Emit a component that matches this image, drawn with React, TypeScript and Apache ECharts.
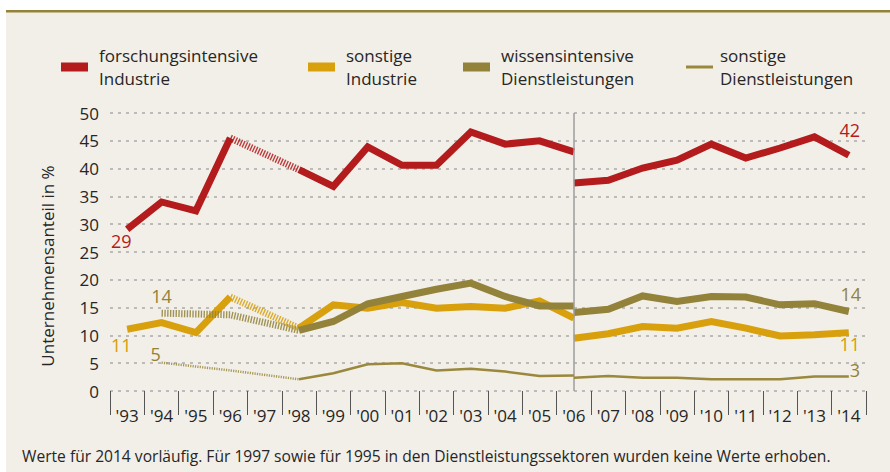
import React, { useEffect, useRef } from 'react';
import * as echarts from 'echarts';

const years = ["'93", "'94", "'95", "'96", "'97", "'98", "'99", "'00", "'01", "'02", "'03", "'04", "'05", "'06", "'07", "'08", "'09", "'10", "'11", "'12", "'13", "'14"];
const seriesNames = ['forschungsintensive Industrie', 'sonstige Industrie', 'wissensintensive Dienstleistungen', 'sonstige Dienstleistungen'];

// 1993–2006 (old survey basis)
const fiIndustrie1 = [29.1, 34.0, 32.4, 45.5, null, 39.8, 36.8, 43.9, 40.6, 40.6, 46.6, 44.4, 45.0, 43.0];
const soIndustrie1 = [11.1, 12.3, 10.5, 16.9, null, 11.3, 15.5, 14.9, 15.9, 14.9, 15.2, 14.9, 16.2, 13.1];
const wiDienst1 = [null, 14.0, null, 13.7, null, 10.9, 12.5, 15.7, 17.0, 18.3, 19.4, 17.0, 15.3, 15.3];
const soDienst1 = [null, 5.1, null, 3.7, null, 2.1, 3.2, 4.8, 5.0, 3.7, 4.0, 3.5, 2.7, 2.8];
// 2006–2014 (new survey basis)
const fiIndustrie2 = [37.4, 37.9, 40.1, 41.5, 44.4, 41.9, 43.7, 45.7, 42.4];
const soIndustrie2 = [9.5, 10.3, 11.6, 11.3, 12.5, 11.3, 9.9, 10.1, 10.5];
const wiDienst2 = [14.1, 14.7, 17.1, 16.1, 17.0, 16.9, 15.5, 15.7, 14.3];
const soDienst2 = [2.4, 2.7, 2.4, 2.4, 2.1, 2.1, 2.1, 2.6, 2.6];

const startLabels = ['29', '11', '14', '5'];
const endLabels = ['42', '11', '14', '3'];

const yAxisTitle = 'Unternehmensanteil in %';
const footnote = 'Werte für 2014 vorläufig. Für 1997 sowie für 1995 in den Dienstleistungssektoren wurden keine Werte erhoben.';

const FONT = '"Open Sans", "Noto Sans", sans-serif';
const TEXT = '#262626';
const colors = ['#b31b1d', '#d8a00c', '#938239', '#9a883c'];
const widths = [7, 7, 7, 2.5];
const labelColors = ['#b31b1d', '#d49d0c', '#938239', '#938239'];
const startLabelPos = [
  { position: 'bottom', distance: 3, offset: [-6, 0] },
  { position: 'bottom', distance: 7, offset: [-6, 0] },
  { position: 'top', distance: 8, offset: [0, 0] },
  { position: 'top', distance: 1, offset: [-6, 1] },
];
const endLabelPos = [
  { position: 'top', distance: 16, offset: [1, 0] },
  { position: 'bottom', distance: 2, offset: [1, 0] },
  { position: 'top', distance: 8, offset: [2, 0] },
  { position: 'top', distance: 1, offset: [6, 3] },
];

const period1 = [fiIndustrie1, soIndustrie1, wiDienst1, soDienst1];
const period2 = [fiIndustrie2, soIndustrie2, wiDienst2, soDienst2];
const BREAK = 13; // index of '06

function labelled(value: number, text: string, pos: any, color: string) {
  return {
    value,
    symbol: 'circle',
    symbolSize: 2,
    itemStyle: { color: 'rgba(0,0,0,0)', borderWidth: 0 },
    label: {
      show: true,
      formatter: () => text,
      position: pos.position,
      distance: pos.distance,
      offset: pos.offset,
      color,
      fontSize: 18,
      lineHeight: 16,
      fontFamily: FONT,
    },
  };
}

function buildSeries() {
  const out: any[] = [];
  for (let k = 0; k < 4; k++) {
    const p1 = period1[k];
    const p2 = period2[k];
    const name = seriesNames[k];
    const firstIdx = p1.findIndex((v) => v != null);
    const solid1 = years.map((_, i) => {
      if (i > BREAK) return '-';
      const v = p1[i];
      if (v == null) return '-';
      if (i === firstIdx) return labelled(v, startLabels[k], startLabelPos[k], labelColors[k]);
      return v;
    });
    const hatched = years.map((_, i) => {
      if (i > BREAK) return '-';
      const v = p1[i];
      if (v == null) return '-';
      const before = p1.slice(0, Math.max(0, i - 1)).some((x) => x != null);
      const after = p1.slice(i + 2, BREAK + 1).some((x) => x != null);
      const gapBefore = i > 0 && p1[i - 1] == null && before;
      const gapAfter = i < BREAK && p1[i + 1] == null && after;
      return gapBefore || gapAfter ? v : '-';
    });
    const solid2 = years.map((_, i) => {
      if (i < BREAK) return '-';
      const j = i - BREAK;
      const v = p2[j];
      if (j === p2.length - 1) return labelled(v, endLabels[k], endLabelPos[k], labelColors[k]);
      return v;
    });
    const base = {
      type: 'line',
      name,
      symbol: 'none',
      showSymbol: true,
      itemStyle: { color: colors[k] },
      emphasis: { disabled: true },
      z: 2 + k,
    };
    out.push({
      ...base,
      data: solid1,
      connectNulls: false,
      lineStyle: { color: colors[k], width: widths[k], join: 'miter', cap: 'butt' },
    });
    out.push({
      ...base,
      data: hatched,
      connectNulls: true,
      lineStyle: {
        color: colors[k],
        width: widths[k] === 7 ? 7 : 2.5,
        type: widths[k] === 7 ? [1.4, 1.4] : [1.2, 1.2],
        cap: 'butt',
        opacity: 0.85,
      },
    });
    const s2: any = {
      ...base,
      data: solid2,
      connectNulls: false,
      lineStyle: { color: colors[k], width: widths[k], join: 'miter', cap: 'butt' },
    };
    if (k === 0) {
      s2.markLine = {
        silent: true,
        symbol: ['none', 'none'],
        label: { show: false },
        lineStyle: { color: '#9e9e9e', width: 1.5, type: 'solid' },
        data: [{ xAxis: years[BREAK] }],
      };
    }
    out.push(s2);
  }
  return out;
}

const legendLeft = [56, 303, 458, 681];
const legendTextGap = [6, 6, 6, 2];

export default function App() {
  const ref = useRef<HTMLDivElement>(null);
  useEffect(() => {
    if (!ref.current) return;
    const chart = echarts.init(ref.current, undefined, { renderer: 'svg' });
    const option: any = {
      animation: false,
      backgroundColor: '#ffffff',
      textStyle: { fontFamily: FONT },
      graphic: [
        { type: 'rect', z: -10, shape: { x: 6, y: 11, width: 884, height: 461 }, style: { fill: '#f2efe8' } },
        { type: 'rect', z: -9, shape: { x: 6, y: 10, width: 884, height: 2.5 }, style: { fill: '#938239' } },
        {
          type: 'text',
          x: 47,
          y: 266,
          rotation: Math.PI / 2,
          style: { text: yAxisTitle, font: `17px ${FONT}`, fill: TEXT, textAlign: 'center', textVerticalAlign: 'middle' },
        },
        {
          type: 'text',
          x: 22,
          y: 456,
          style: { text: footnote, font: `15.6px ${FONT}`, fill: TEXT, textAlign: 'left', textVerticalAlign: 'middle' },
        },
      ],
      legend: seriesNames.map((name, k) => ({
        left: legendLeft[k],
        top: 39,
        orient: 'horizontal',
        selectedMode: false,
        itemWidth: 27,
        itemHeight: 9,
        data: [
          k === 3
            ? { name, icon: 'path://M0,0H27V3H0Z' }
            : { name, icon: 'rect' },
        ],
        formatter: (n: string) => n.replace(' ', '\n'),
        textStyle: { fontSize: 17, lineHeight: 23, color: TEXT, fontFamily: FONT, padding: [0, 0, 0, legendTextGap[k]] },
      })),
      grid: { left: 110, right: 24, top: 113, bottom: 81, containLabel: false },
      xAxis: {
        type: 'category',
        data: years,
        boundaryGap: true,
        offset: 9,
        axisLine: { show: false },
        axisTick: { show: true, length: 24, interval: 0, lineStyle: { color: '#555555', width: 1 } },
        axisLabel: { interval: 0, fontSize: 17, color: TEXT, margin: 7, fontFamily: FONT },
        splitLine: { show: false },
      },
      yAxis: {
        type: 'value',
        min: 0,
        max: 50,
        interval: 5,
        axisLine: { show: false },
        axisTick: { show: false },
        axisLabel: { fontSize: 17, color: TEXT, margin: 11, fontFamily: FONT },
        splitLine: { lineStyle: { color: '#ababab', width: 1.5, type: [3, 5] } },
      },
      series: buildSeries(),
    };
    chart.setOption(option);
    return () => chart.dispose();
  }, []);
  return <div ref={ref} style={{ position: 'absolute', left: 0, top: 0, width: 890, height: 472 }} />;
}
